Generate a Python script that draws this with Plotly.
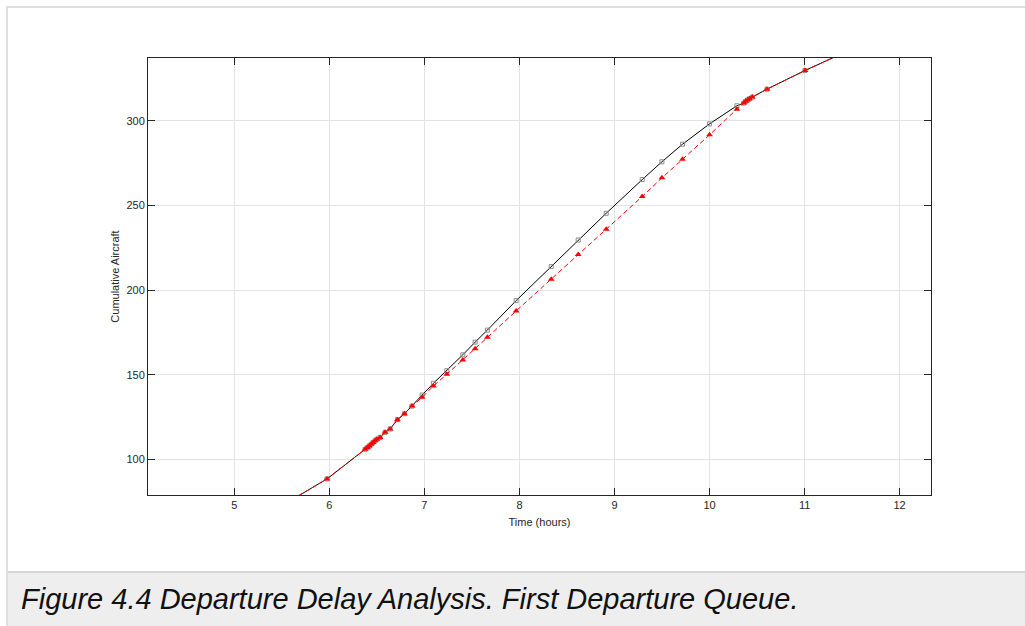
import plotly.graph_objects as go

# ---- data ----
time_h = [5.60, 5.975, 6.376, 6.40, 6.42, 6.44, 6.46, 6.48, 6.50, 6.534, 6.586, 6.639,
          6.716, 6.79, 6.87, 6.976, 7.095, 7.236, 7.404, 7.534, 7.663, 7.965, 8.334,
          8.618, 8.913, 9.292, 9.499, 9.716, 10.0, 10.288, 10.36, 10.38, 10.40, 10.42,
          10.45, 10.604, 11.004, 11.60]
cum_demand = [76, 88.5, 106, 107, 108, 109, 110, 111, 112, 113, 116, 118,
              123.5, 127, 131.5, 138, 145, 152.4, 161.8, 169.3, 176.4, 193.8, 213.9,
              229.6, 245.4, 265.3, 275.8, 286.2, 298.2, 308.9, 310.5, 311.5, 312.3, 313,
              314, 318.7, 329.7, 345]
cum_departed = [76, 88.5, 106, 107, 108, 109, 110, 111, 112, 113, 116, 118,
                123.5, 127, 131.5, 136.7, 143.4, 150.3, 158.7, 165.4, 172.1, 187.7, 206.4,
                221, 236, 255.3, 266.3, 277.3, 291.7, 306.9, 310.5, 311.5, 312.3, 313,
                314, 318.7, 329.7, 345]
x_ticks = [5, 6, 7, 8, 9, 10, 11, 12]
y_ticks = [100, 150, 200, 250, 300]
x_title = "Time (hours)"
y_title = "Cumulative Aircraft"
caption = "Figure 4.4 Departure Delay Analysis. First Departure Queue."

# ---- layout geometry (pixels) ----
W, H = 1025, 626
L, R, T, B = 148, 931, 58, 495
pw, ph = R - L, B - T

def px_x(p):
    return (p - L) / pw

def px_y(p):
    return (B - p) / ph

FONT = "Liberation Sans, Arial, sans-serif"

fig = go.Figure()
fig.add_trace(go.Scatter(
    x=time_h, y=cum_demand, mode="lines+markers",
    line=dict(color="#000000", width=1),
    marker=dict(symbol="square-open", size=4, color="#8c8c8c", line=dict(width=1)),
    showlegend=False, cliponaxis=True))
fig.add_trace(go.Scatter(
    x=time_h, y=cum_departed, mode="lines+markers",
    line=dict(color="#ff0000", width=1, dash="5px,3px"),
    marker=dict(symbol="triangle-up", size=6, color="#ff0000"),
    showlegend=False, cliponaxis=True))

axis_common = dict(
    showline=True, linecolor="#262626", linewidth=1, mirror="allticks",
    ticks="inside", ticklen=7, tickcolor="#262626", tickwidth=1,
    showgrid=True, gridcolor="#e3e3e3", gridwidth=1, zeroline=False,
    tickfont=dict(family=FONT, size=11, color="#262626"),
)
fig.update_xaxes(range=[4.092, 12.33], tickvals=x_ticks,
                 title=dict(text=x_title, standoff=8,
                            font=dict(family=FONT, size=11, color="#262626")),
                 **axis_common)
fig.update_yaxes(range=[79, 337.1], tickvals=y_ticks,
                 title=dict(text=y_title, standoff=4,
                            font=dict(family=FONT, size=11, color="#262626")),
                 **axis_common)

shapes = [
    dict(type="line", xref="paper", yref="paper", x0=px_x(6), x1=px_x(W + 5), y0=px_y(7), y1=px_y(7),
         line=dict(color="#dedede", width=2), layer="below"),
    dict(type="line", xref="paper", yref="paper", x0=px_x(7), x1=px_x(7), y0=px_y(6), y1=px_y(H + 5),
         line=dict(color="#dedede", width=2), layer="below"),
    dict(type="rect", xref="paper", yref="paper", x0=px_x(8), x1=px_x(W + 5), y0=px_y(H + 5), y1=px_y(572),
         fillcolor="#eeeeee", line=dict(width=0), layer="below"),
    dict(type="line", xref="paper", yref="paper", x0=px_x(8), x1=px_x(W + 5), y0=px_y(572), y1=px_y(572),
         line=dict(color="#d6d6d6", width=2), layer="below"),
]

fig.update_layout(
    width=W, height=H,
    margin=dict(l=L, r=W - R, t=T, b=H - B, pad=0),
    paper_bgcolor="#ffffff", plot_bgcolor="#ffffff",
    shapes=shapes,
    annotations=[dict(
        text=caption, xref="paper", yref="paper", x=px_x(19), y=px_y(599),
        xanchor="left", yanchor="middle", showarrow=False,
        font=dict(family=FONT, size=29, color="#111111", style="italic"),
    )],
)

fig.write_html("out.html", config={"displayModeBar": False},
               post_script="document.body.style.margin='0';document.body.style.overflow='hidden';")
